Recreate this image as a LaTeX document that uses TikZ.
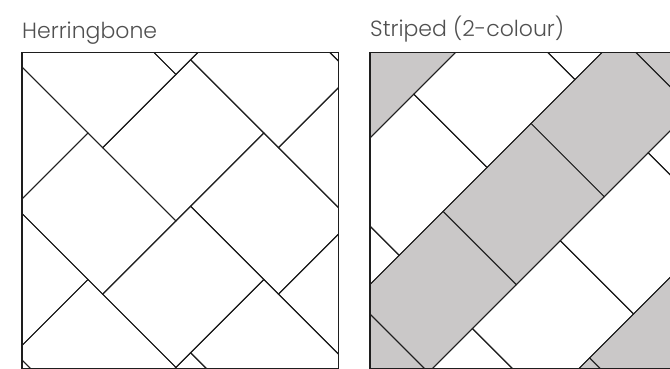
\documentclass[tikz,border=0pt]{standalone}
\usepackage{fontspec}
\setmainfont{Poppins}[UprightFont={* Light}]
\usetikzlibrary{positioning}
\definecolor{tilegrey}{RGB}{202,200,200}
\definecolor{labelgrey}{RGB}{80,80,80}
\definecolor{jointgrey}{RGB}{30,30,30}

\begin{document}
\begin{tikzpicture}[
  x=1pt, y=-1pt,
  title/.style={anchor=base west, inner sep=0pt, text=labelgrey, font=\fontsize{22}{26}\selectfont},
  frame/.style={draw=jointgrey, line width=1.4pt},
  joint/.style={draw=jointgrey, line width=1pt},
  tile/.style={joint, fill=tilegrey},
  grid45/.style={x={(14.65pt,-14.65pt)}, y={(-14.65pt,-14.65pt)}}
]
\useasboundingbox (0,0) rectangle (670,369);

% herringbone panel
\node [title] (herring) at (22,38.3) {Herringbone};
\begin{scope}
  \clip (22,52.5) rectangle (338.3,368.3);
  \begin{scope}[shift={(88,133)}, grid45]
    \foreach \k in {-4,...,4}
      \foreach \m in {-3,...,3} {
        \draw [joint] ({5*\k+6*\m},{5*\k-6*\m}) -- ++(6,0) -- ++(0,5) -- ++(-6,0) -- cycle;
        \draw [joint] ({5*\k+6*\m+1},{5*\k-6*\m-6}) -- ++(5,0) -- ++(0,6) -- ++(-5,0) -- cycle;
      }
  \end{scope}
\end{scope}
\draw [frame] (22,52.5) rectangle (338.3,368.3);

% striped panel
\node [title] (striped) at (370,36.5) {Striped (2-colour)};
\begin{scope}
  \clip (370,52.5) rectangle (686,368.3);
  \begin{scope}[shift={(457.75,50.25)}, grid45]
    \foreach \j in {0,...,2}
      \foreach \n in {-2,...,2}
        \draw [tile] ({10*\j-5},{6*\n}) -- ++(5,0) -- ++(0,6) -- ++(-5,0) -- cycle;
    \foreach \j in {0,...,1}
      \foreach \n in {-2,...,2}
        \draw [joint] ({10*\j},{6*\n+3}) -- ++(5,0) -- ++(0,6) -- ++(-5,0) -- cycle;
  \end{scope}
\end{scope}
\draw [frame] (370,52.5) rectangle (686,368.3);

\end{tikzpicture}
\end{document}
